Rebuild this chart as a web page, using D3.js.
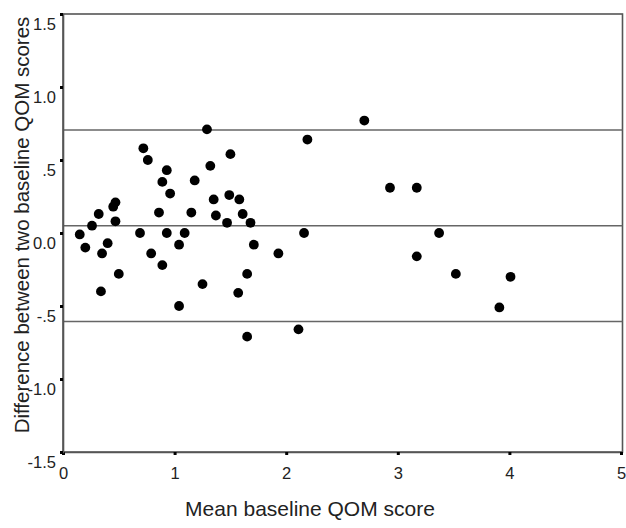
<!DOCTYPE html>
<html>
<head>
<meta charset="utf-8">
<script src="https://cdn.jsdelivr.net/npm/d3@7"></script>
<style>
  html, body { margin: 0; padding: 0; background: #fff; }
  svg { display: block; font-family: "Liberation Sans", Arial, sans-serif; }
</style>
</head>
<body>
<svg id="chart" width="626" height="528"></svg>
<script>
// ---- data ----
const meanScores = [0.15, 0.20, 0.26, 0.32, 0.35, 0.34, 0.40, 0.47, 0.45, 0.47, 0.50,
  0.69, 0.72, 0.76, 0.79, 0.86, 0.89, 0.89, 0.93, 0.96, 0.93, 1.04, 1.09, 1.04,
  1.15, 1.18, 1.25, 1.29, 1.32, 1.35, 1.37, 1.47, 1.49, 1.50, 1.57, 1.58, 1.61,
  1.68, 1.65, 1.65, 1.71, 1.93, 2.11, 2.16, 2.19, 2.70, 2.93, 3.17, 3.17, 3.37,
  3.52, 3.91, 4.01];
const diffScores = [-0.01, -0.10, 0.05, 0.13, -0.14, -0.40, -0.07, 0.21, 0.18, 0.08, -0.28,
  0.00, 0.58, 0.50, -0.14, 0.14, 0.35, -0.22, 0.43, 0.27, 0.00, -0.08, 0.00, -0.50,
  0.14, 0.36, -0.35, 0.71, 0.46, 0.23, 0.12, 0.07, 0.26, 0.54, -0.41, 0.23, 0.13,
  0.07, -0.28, -0.71, -0.08, -0.14, -0.66, 0.00, 0.64, 0.77, 0.31, 0.31, -0.16, 0.00,
  -0.28, -0.51, -0.30];
const refLines = [0.705, 0.05, -0.607];   // upper limit, mean difference, lower limit
const xTickValues = [0, 1, 2, 3, 4, 5];
const xTickLabels = ["0", "1", "2", "3", "4", "5"];
const yTickValues = [1.5, 1.0, 0.5, 0.0, -0.5, -1.0, -1.5];
const yTickLabels = ["1.5", "1.0", ".5", "0.0", "-.5", "-1.0", "-1.5"];
const xTitle = "Mean baseline QOM score";
const yTitle = "Difference between two baseline QOM scores";

// ---- layout ----
const W = 626, H = 528;
const m = { left: 63, right: 5, top: 14, bottom: 76 };
const svg = d3.select("#chart");

const x = d3.scaleLinear().domain([0, 5]).range([m.left, W - m.right]);
const y = d3.scaleLinear().domain([-1.5, 1.5]).range([H - m.bottom, m.top]);

// frame (top and right)
svg.append("rect")
  .attr("x", x(0)).attr("y", y(1.5))
  .attr("width", x(5) - x(0) + 1.5).attr("height", y(-1.5) - y(1.5))
  .attr("fill", "none").attr("stroke", "#555").attr("stroke-width", 1.6);

// reference lines
svg.append("g").selectAll("line").data(refLines).join("line")
  .attr("x1", x(0)).attr("x2", x(5) + 1.5)
  .attr("y1", d => y(d)).attr("y2", d => y(d))
  .attr("stroke", "#666").attr("stroke-width", 1.5);

// axes
const xAxis = d3.axisBottom(x).tickValues(xTickValues)
  .tickFormat((d, i) => xTickLabels[i]).tickSize(3).tickPadding(12);
const yAxis = d3.axisLeft(y).tickValues(yTickValues)
  .tickFormat((d, i) => yTickLabels[i]).tickSize(3).tickPadding(4);

const gx = svg.append("g").attr("transform", `translate(0,${y(-1.5)})`).call(xAxis);
const gy = svg.append("g").attr("transform", `translate(${x(0)},0)`).call(yAxis);

[gx, gy].forEach(g => {
  g.select(".domain").attr("stroke", "#555").attr("stroke-width", 1.6);
  g.selectAll(".tick line").attr("stroke", "#000").attr("stroke-width", 3);
  g.selectAll(".tick text").attr("fill", "#222").style("font-size", "16.5px")
    .style("font-family", '"Liberation Sans", Arial, sans-serif');
});
gy.selectAll(".tick text").attr("dy", "0.95em");

// points
svg.append("g").selectAll("circle").data(meanScores).join("circle")
  .attr("cx", d => x(d))
  .attr("cy", (d, i) => y(diffScores[i]))
  .attr("r", 4.9)
  .attr("fill", "#000");

// titles
svg.append("text")
  .attr("x", 310).attr("y", 516)
  .attr("text-anchor", "middle")
  .attr("fill", "#222")
  .style("font-size", "21px")
  .text(xTitle);

svg.append("text")
  .attr("transform", `translate(29,225) rotate(-90)`)
  .attr("text-anchor", "middle")
  .attr("fill", "#222")
  .style("font-size", "20.5px")
  .text(yTitle);
</script>
</body>
</html>
